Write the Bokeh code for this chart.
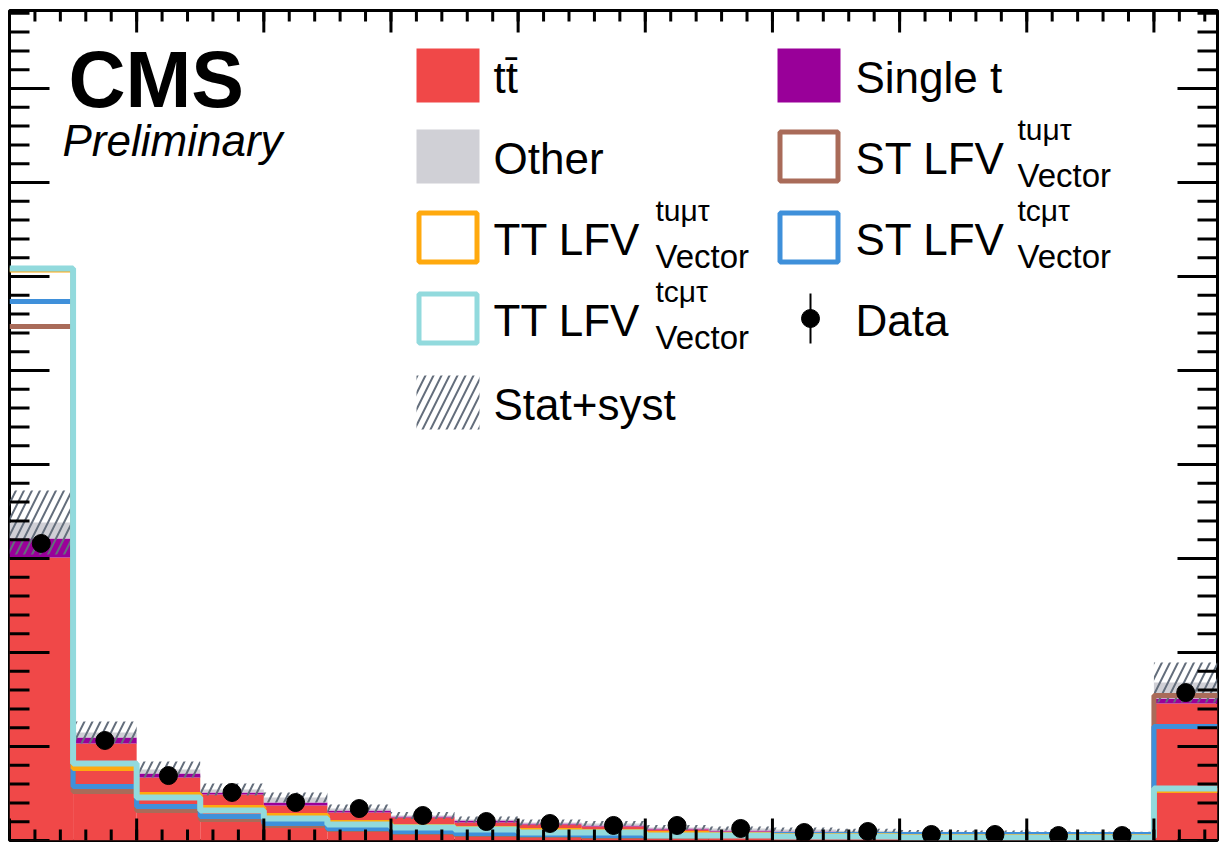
import numpy as np
from bokeh.plotting import figure
from bokeh.core.properties import value
from bokeh.embed import file_html
from bokeh.resources import INLINE

# ---------------- data (19 bins, last one = overflow) ----------------
bin_edges = list(range(20))
ttbar    = [3011, 1032, 670, 489, 372, 298, 245, 191, 170, 149, 117, 96, 85, 74, 70, 64, 53, 50, 1457]
single_t = [202, 64, 43, 21, 32, 21, 11, 21, 11, 11, 11, 11, 11, 10, 6, 10, 10, 10, 53]
other    = [170, 53, 43, 32, 53, 21, 11, 11, 11, 21, 11, 21, 21, 21, 16, 11, 11, 11, 170]
unc      = [340, 117, 85, 64, 53, 43, 37, 32, 32, 27, 27, 21, 21, 21, 21, 21, 21, 21, 213]
data     = [3160, 1064, 691, 511, 404, 340, 266, 202, 181, 160, 160, 128, 85, 96, 64, 64, 53, 53, 1574]
data_err = [56, 33, 26, 23, 20, 18, 16, 14, 13, 13, 13, 11, 9, 10, 8, 8, 7, 7, 40]
st_tu    = [5468, 521, 319, 223, 160, 117, 85, 64, 53, 43, 43, 53, 53, 53, 53, 53, 53, 53, 1543]
st_tc    = [5734, 574, 362, 255, 181, 128, 96, 74, 64, 53, 64, 64, 64, 64, 64, 64, 64, 64, 1213]
tt_tu    = [6070, 766, 489, 351, 266, 191, 149, 128, 106, 96, 74, 64, 53, 53, 43, 43, 43, 43, 532]
tt_tc    = [6085, 819, 457, 319, 234, 170, 138, 117, 85, 85, 53, 53, 43, 43, 32, 32, 32, 32, 553]

x_major = list(range(0, 19, 2))
x_minor = [round(0.4 * i, 2) for i in range(48)]
y_major = list(range(0, 9000, 1000))
y_minor = list(range(0, 8831, 200))

Y_MAX = 8830
X_MAX = 19

C_TT = "#f04848"
C_ST = "#990099"
C_OTHER = "#d0d0d6"
C_STTU = "#a96b59"
C_STTC = "#3f90da"
C_TTTU = "#ffa90e"
C_TTTC = "#92dadd"
C_HATCH = "#646e7c"
FONT = value("Liberation Sans")

FL, FT, FW, FH = 9, 10, 1208, 830  # frame left/top/width/height in pixels

p = figure(width=1219, height=842, x_range=(0, X_MAX), y_range=(0, Y_MAX),
           output_backend="svg", toolbar_location=None,
           min_border_left=FL, min_border_right=1219 - FL - FW,
           min_border_top=FT, min_border_bottom=842 - FT - FH)
p.xaxis.visible = False
p.yaxis.visible = False
p.grid.visible = False
p.outline_line_color = "black"
p.outline_line_width = 3
p.background_fill_color = "white"
p.border_fill_color = "white"

XPX = X_MAX / FW   # data units per pixel (x)
YPX = Y_MAX / FH   # data units per pixel (y)

# ---------------- stack ----------------
left = np.array(bin_edges[:-1], dtype=float)
right = np.array(bin_edges[1:], dtype=float)
b0 = np.zeros(len(ttbar))
t1 = b0 + np.array(ttbar)
t2 = t1 + np.array(single_t)
t3 = t2 + np.array(other)

p.quad(left=left, right=right, bottom=b0, top=t1, fill_color=C_TT, line_color=None)
p.quad(left=left, right=right, bottom=t1, top=t2, fill_color=C_ST, line_color=None)
p.quad(left=left, right=right, bottom=t2, top=t3, fill_color=C_OTHER, line_color=None)

# uncertainty band
p.quad(left=left, right=right, bottom=t3 - np.array(unc), top=t3 + np.array(unc),
       fill_color=None, line_color=None, hatch_pattern="/", hatch_color=C_HATCH,
       hatch_weight=2, hatch_scale=16)

# ---------------- signal step lines ----------------
def step_line(vals, color, width):
    ys = list(vals) + [vals[-1]]
    p.step(x=bin_edges, y=ys, mode="after", line_color=color, line_width=width)

step_line(st_tu, C_STTU, 5)
step_line(st_tc, C_STTC, 5)
step_line(tt_tu, C_TTTU, 5)
step_line(tt_tc, C_TTTC, 6)

# ---------------- data ----------------
centers = (left + right) / 2
d = np.array(data)
e = np.array(data_err)
p.segment(x0=centers, x1=centers, y0=d - e, y1=d + e, line_color="black", line_width=2)
p.scatter(x=centers, y=d, size=18, fill_color="black", line_color="black")

# ---------------- tick marks (inward, all four sides) ----------------
def ticks_x(vals, length):
    v = np.array(vals, dtype=float)
    L = length * YPX
    p.segment(x0=v, x1=v, y0=np.zeros_like(v), y1=np.zeros_like(v) + L,
              line_color="black", line_width=3)
    p.segment(x0=v, x1=v, y0=np.zeros_like(v) + Y_MAX, y1=np.zeros_like(v) + Y_MAX - L,
              line_color="black", line_width=3)

def ticks_y(vals, length):
    v = np.array(vals, dtype=float)
    L = length * XPX
    p.segment(x0=np.zeros_like(v), x1=np.zeros_like(v) + L, y0=v, y1=v,
              line_color="black", line_width=3)
    p.segment(x0=np.zeros_like(v) + X_MAX, x1=np.zeros_like(v) + X_MAX - L, y0=v, y1=v,
              line_color="black", line_width=3)

ticks_x(x_minor, 11)
ticks_x(x_major, 22)
ticks_y(y_minor, 20)
ticks_y(y_major, 40)

# ---------------- decorations (pixel helpers) ----------------
def dx(px):
    return (px - FL) / FW * X_MAX

def dy(py):
    return (FT + FH - py) / FH * Y_MAX

def txt(px, py, s, size, style="normal"):
    # py is the wanted baseline; compensate the renderer's baseline offset
    yb = py - 0.35 * size
    p.text(x=[dx(px)], y=[dy(yb)], text=[s], text_font=FONT, text_font_size=f"{size}px",
           text_font_style=style, text_baseline="alphabetic", text_align="left",
           text_color="black")

txt(68, 107, "CMS", 79, "bold")
txt(62, 155, "Preliminary", 44, "italic")

rows = [75, 156, 237, 318, 402]
LX, RX = 416, 777
TLX, TRX = 493, 855
BW, BH = 63, 27

def fill_box(x, c, color):
    p.quad(left=[dx(x)], right=[dx(x + BW)], top=[dy(c - BH)], bottom=[dy(c + BH)],
           fill_color=color, line_color=None)

def line_box(x, c, color):
    p.quad(left=[dx(x + 2.5)], right=[dx(x + BW - 2.5)], top=[dy(c - BH + 2.5)],
           bottom=[dy(c + BH - 2.5)], fill_color=None, line_color=color, line_width=5)

def lfv(x, c, main, sup):
    txt(x, c + 17, main, 44)
    txt(x + 162, c - 17, sup, 30)
    txt(x + 162, c + 31, "Vector", 33)

fill_box(LX, rows[0], C_TT)
txt(TLX, rows[0] + 17, "tt\u0304", 44)
fill_box(RX, rows[0], C_ST)
txt(TRX, rows[0] + 17, "Single t", 44)

fill_box(LX, rows[1], C_OTHER)
txt(TLX, rows[1] + 17, "Other", 44)
line_box(RX, rows[1], C_STTU)
lfv(TRX, rows[1], "ST LFV", "tu\u03bc\u03c4")

line_box(LX, rows[2], C_TTTU)
lfv(TLX, rows[2], "TT LFV", "tu\u03bc\u03c4")
line_box(RX, rows[2], C_STTC)
lfv(TRX, rows[2], "ST LFV", "tc\u03bc\u03c4")

line_box(LX, rows[3], C_TTTC)
lfv(TLX, rows[3], "TT LFV", "tc\u03bc\u03c4")
p.segment(x0=[dx(810)], x1=[dx(810)], y0=[dy(rows[3] - 25)], y1=[dy(rows[3] + 25)],
          line_color="black", line_width=2)
p.scatter(x=[dx(810)], y=[dy(rows[3])], size=18, fill_color="black", line_color="black")
txt(TRX, rows[3] + 17, "Data", 44)

p.quad(left=[dx(LX)], right=[dx(LX + BW)], top=[dy(rows[4] - BH)], bottom=[dy(rows[4] + BH)],
       fill_color=None, line_color=None, hatch_pattern="/", hatch_color=C_HATCH,
       hatch_weight=2, hatch_scale=16)
txt(TLX, rows[4] + 17, "Stat+syst", 44)

open("out.html", "w").write(file_html(p, INLINE))
